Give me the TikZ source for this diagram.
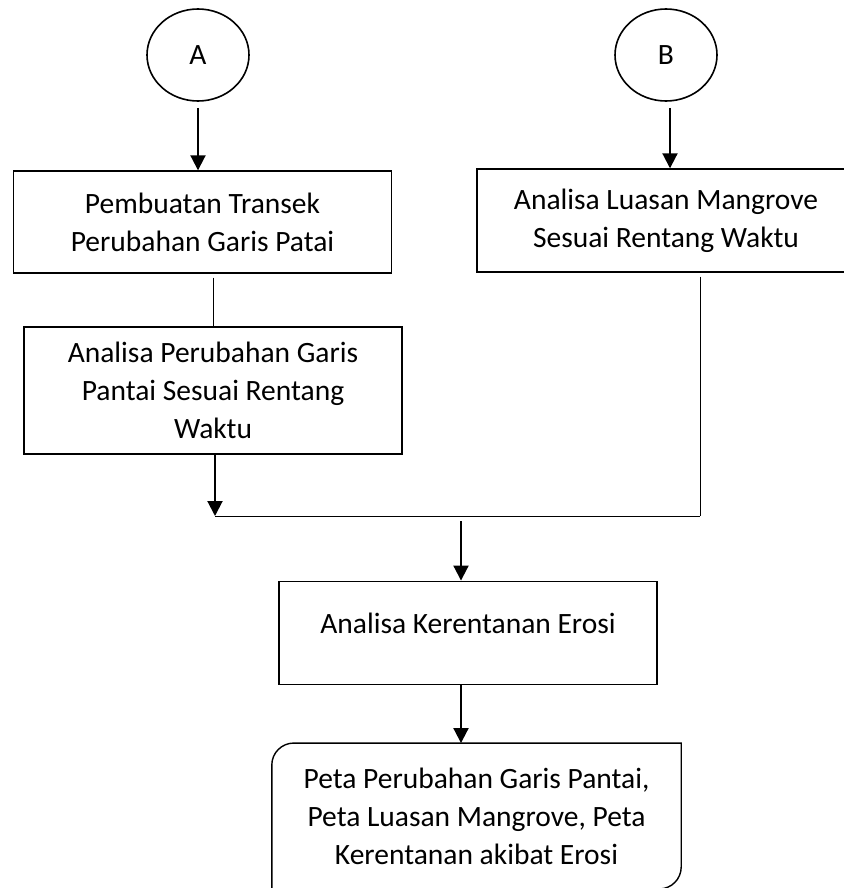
\documentclass[tikz,border=0pt]{standalone}
\usepackage{fontspec}
\setmainfont{Carlito}
\usetikzlibrary{arrows.meta,shapes.geometric}

\begin{document}
\begin{tikzpicture}[
  x=1pt,y=1pt,
  box/.style={draw,line width=1.4pt,inner sep=0pt,align=center,minimum width=378pt,
    font=\fontsize{29.5}{38}\selectfont},
  term/.style={draw,ellipse,line width=1.6pt,inner sep=0pt,minimum width=102pt,minimum height=92pt,
    font=\fontsize{29.5}{38}\selectfont},
  arr/.style={-{Triangle[length=15pt,width=15pt]},line width=2pt},
  link/.style={line width=1pt}
]
\useasboundingbox (0,0) rectangle (843,-888);

% terminators
\node[term] (a) at (198,-55) {A};
\node[term] (b) at (666,-55) {B};

% process boxes
\node[box,minimum height=102pt] (transek) at (202.5,-222) {Pembuatan Transek\\Perubahan Garis Patai};
\node[box,minimum height=127pt] (garis) at (213,-390.5) {Analisa Perubahan Garis\\Pantai Sesuai Rentang\\Waktu};
\node[box,minimum height=103pt] (luasan) at (666,-220.5) {Analisa Luasan Mangrove\\Sesuai Rentang Waktu};
\node[box,minimum height=103.5pt,text height=20pt,text depth=20pt] (erosi) at (468,-633) {Analisa Kerentanan Erosi};

% output box (two rounded corners)
\node[inner sep=0pt,minimum width=409pt,minimum height=145.5pt,align=center,
  font=\fontsize{29.5}{38}\selectfont] (peta) at (476.5,-816) {Peta Perubahan Garis Pantai,\\Peta Luasan Mangrove, Peta\\Kerentanan akibat Erosi};
\draw[line width=1.4pt] (peta.south west) -- ([yshift=-22pt]peta.north west)
  arc[start angle=180,end angle=90,radius=22pt] -- (peta.north east)
  -- ([yshift=22pt]peta.south east) arc[start angle=0,end angle=-90,radius=22pt] -- cycle;

% junction
\coordinate (jl) at (215,-516);
\coordinate (jm) at (461,-516);
\coordinate (jr) at (700,-516);

\draw[arr,shorten <=6pt] (a.south) -- (a.south |- transek.north);
\draw[arr,shorten <=6pt] ([xshift=4pt]b.south) -- ([xshift=4pt]b.south |- luasan.north);
\draw[link,shorten <=4pt] (garis.north |- transek.south) -- (garis.north);
\draw[arr] (jl |- garis.south) -- (jl);
\draw[link] (jl) -- (jr);
\draw[link,shorten <=4pt] (jr |- luasan.south) -- (jr);
\draw[arr,shorten <=5pt] (jm) -- (jm |- erosi.north);
\draw[arr] (jm |- erosi.south) -- (jm |- peta.north);
\end{tikzpicture}
\end{document}
